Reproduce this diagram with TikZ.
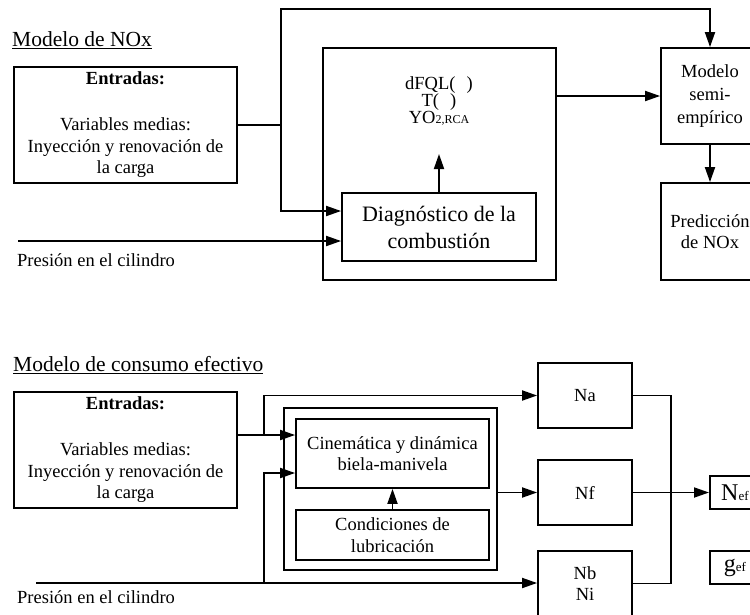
\documentclass[tikz,border=0pt]{standalone}
\usepackage{fontspec}
\setmainfont{Liberation Serif}
\usetikzlibrary{arrows.meta}
\begin{document}
\begin{tikzpicture}[x=1pt,y=-1pt,
  every node/.style={inner sep=0pt, font=\fontsize{18.5}{21.5}\selectfont},
  blk/.style={draw, line width=1.8pt, align=center},
  wire/.style={line width=1.8pt},
  flow/.style={wire, -{Triangle[length=15pt,width=10pt]}},
  ttl/.style={anchor=west, font=\fontsize{21.5}{24}\selectfont},
  lbl/.style={anchor=west},
  inputs/.style={blk, minimum width=223pt, minimum height=116pt},
  outbox/.style={blk, minimum width=94pt, minimum height=65pt},
  result/.style={blk, anchor=west, minimum width=50pt, minimum height=33pt}]
\useasboundingbox (0,0) rectangle (750,614);
\clip (0,0) rectangle (750,614);

% ---------------- NOx model ----------------
\node[ttl] (t1) at (12,40) {\underline{Modelo de NOx}};
\node[inputs] (ent1) at (125.5,125)
  {\textbf{Entradas:}\\[24.5pt]Variables medias:\\Inyección y renovación de\\la carga};
\node[blk, minimum width=233pt, minimum height=232pt] (core) at (439.5,164) {};
\node[blk, minimum width=194pt, minimum height=68pt,
      font=\fontsize{22}{27}\selectfont] (diag) at (439,227)
  {Diagnóstico de la\\combustión};
\node[align=center, font=\fontsize{18.5}{17}\selectfont] (vars) at (439,101)
  {dFQL(\hspace{0.6em})\\T(\hspace{0.6em})\\YO{\fontsize{12}{12}\selectfont 2,RCA}};
\coordinate (vtip) at (439,154);
\node[blk, minimum width=98pt, minimum height=96pt,
      font=\fontsize{18.5}{23}\selectfont] (semi) at (710,96)
  {Modelo\\semi-\\empírico};
\node[blk, minimum width=98pt, minimum height=97pt] (pred) at (710,231.5)
  {Predicción\\de NOx};
\node[lbl] (p1t) at (17,260) {Presión en el cilindro};

\coordinate (j1) at (281,125);
\coordinate (ov) at (281,9);
\coordinate (p1) at (18,241);
\draw[wire] (ent1.east) -- (j1);
\draw[flow] (j1) -- (ov) -| (semi.north);
\draw[flow] (j1) |- ([yshift=16pt]diag.west);
\draw[flow] (p1) -- ([yshift=-14pt]diag.west);
\draw[flow] (diag.north) -- (vtip);
\draw[flow] (core.east |- semi.west) -- (semi.west);
\draw[flow] (semi.south) -- (pred.north);

% ---------------- effective consumption model ----------------
\node[ttl] (t2) at (13,365) {\underline{Modelo de consumo efectivo}};
\node[inputs] (ent2) at (125.5,450)
  {\textbf{Entradas:}\\[24.5pt]Variables medias:\\Inyección y renovación de\\la carga};
\node[blk, minimum width=213pt, minimum height=162pt] (frame) at (390.5,489) {};
\node[blk, minimum width=193pt, minimum height=69pt] (cin) at (392.5,453.5)
  {Cinemática y dinámica\\biela-manivela};
\node[blk, minimum width=193pt, minimum height=50pt] (cond) at (392.5,535)
  {Condiciones de\\lubricación};
\node[outbox] (na) at (585,395.5) {Na};
\node[outbox] (nf) at (585,492.5) {Nf};
\node[outbox] (nb) at (585,583.5) {Nb\\Ni};
\node[result] (nef) at (709,492.5)
  {{\fontsize{24}{24}\selectfont N}{\fontsize{13}{13}\selectfont ef}};
\node[result] (gef) at (709,567.5)
  {{\fontsize{24}{24}\selectfont g}{\fontsize{13}{13}\selectfont ef}};
\node[lbl] (p2t) at (17,597) {Presión en el cilindro};

\coordinate (j2) at (264,435);
\coordinate (p2) at (36,583);
\coordinate (j3) at (264,583);
\coordinate (bus) at (671,395.5);
\draw[wire] (ent2.east |- j2) -- (j2);
\draw[flow] (j2) -- (cin.west |- j2);
\draw[flow] (j2) |- (na.west);
\draw[flow] (p2) -- (nb.west |- p2);
\draw[flow] (j3) |- ([yshift=-19.5pt]cin.west);
\draw[flow] (cond.north) -- (cin.south);
\draw[flow] (frame.east |- nf.west) -- (nf.west);
\draw[wire] (na.east) -- (bus) |- (nb.east);
\draw[flow] (nf.east) -- (nef.west);
\end{tikzpicture}
\end{document}
